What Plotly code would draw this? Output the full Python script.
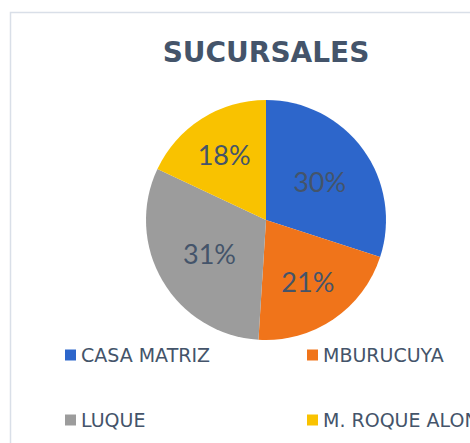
import plotly.graph_objects as go

categories = ["CASA MATRIZ", "MBURUCUYA", "LUQUE", "M. ROQUE ALONSO"]
values = [30, 21, 31, 18]
colors = ["#2D66CB", "#F0741A", "#9C9C9C", "#F9C200"]
title_text = "SUCURSALES"

W, H = 470, 443
TEXT = "#44546A"

fig = go.Figure()
fig.add_trace(go.Pie(
    labels=categories,
    values=values,
    sort=False,
    direction="clockwise",
    rotation=0,
    marker=dict(colors=colors, line=dict(color="white", width=0)),
    texttemplate="%{percent:.0%}",
    textposition="inside",
    insidetextorientation="horizontal",
    textfont=dict(family="Lato", size=27, color=TEXT),
    domain=dict(x=[146 / W, 386 / W], y=[(H - 340) / H, (H - 100) / H]),
    showlegend=False,
    hoverinfo="label+percent",
))

# chart-area border
fig.add_shape(type="rect", xref="paper", yref="paper",
              x0=10.5 / W, x1=1.2, y0=-0.2, y1=1 - 12.5 / H,
              line=dict(color="#D9DFE8", width=1.5), fillcolor="rgba(0,0,0,0)", layer="below")

# legend built from the category list
leg_pos = [(65, 355), (307, 355), (65, 420), (307, 420)]
for (lx, ly), name, col in zip(leg_pos, categories, colors):
    fig.add_shape(type="rect", xref="paper", yref="paper",
                  x0=lx / W, x1=(lx + 11) / W, y0=1 - (ly + 5.5) / H, y1=1 - (ly - 5.5) / H,
                  fillcolor=col, line=dict(width=0))
    fig.add_annotation(xref="paper", yref="paper", x=(lx + 14) / W, y=1 - ly / H,
                       xanchor="left", yanchor="middle", showarrow=False,
                       text=name, font=dict(family="DejaVu Sans", size=19, color=TEXT))

fig.update_layout(
    width=W, height=H,
    margin=dict(l=0, r=0, t=0, b=0),
    paper_bgcolor="white", plot_bgcolor="white",
    title=dict(text="<b>" + title_text + "</b>", x=266 / W, xanchor="center",
               y=1 - 52 / H, yanchor="middle", yref="container",
               font=dict(family="DejaVu Sans", size=28, color=TEXT)),
)

fig.write_html("out.html", config={"displayModeBar": False},
               post_script="document.body.style.margin='0';")
